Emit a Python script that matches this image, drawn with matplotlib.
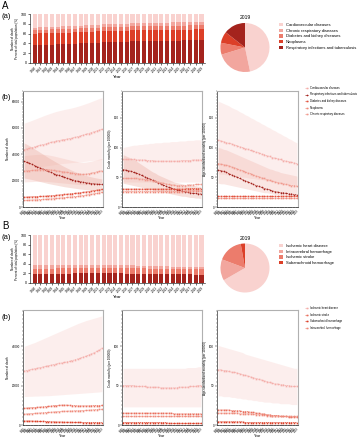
import matplotlib
matplotlib.use('Agg')
import matplotlib.pyplot as plt
from matplotlib.ticker import AutoMinorLocator

plt.rcParams['font.family'] = ['Liberation Sans', 'DejaVu Sans']
plt.rcParams['axes.linewidth'] = 0.4

W, H = 358, 440
years = list(range(1990, 2020))

# ---- A: non-communicable / respiratory causes ----
a_bar_dark = [36.5, 37.0, 37.2, 37.5, 38.0, 38.5, 39.0, 39.5, 40.0, 40.5, 41.0, 41.5, 42.0, 42.5, 43.0,
              43.3, 43.6, 44.0, 44.3, 44.6, 44.8, 45.0, 45.2, 45.4, 45.6, 45.8, 46.0, 46.1, 46.2, 46.3]
a_bar_red = [23.5, 23.4, 23.4, 23.3, 23.2, 23.2, 23.1, 23.0, 23.0, 22.9, 22.9, 22.8, 22.8, 22.7, 22.7,
             22.6, 22.6, 22.5, 22.5, 22.5, 22.4, 22.4, 22.4, 22.3, 22.3, 22.3, 22.2, 22.2, 22.2, 22.2]
a_bar_salmon = [7.5, 7.5, 7.6, 7.6, 7.6, 7.7, 7.7, 7.7, 7.8, 7.8, 7.8, 7.9, 7.9, 7.9, 8.0,
                8.0, 8.0, 8.1, 8.1, 8.1, 8.1, 8.2, 8.2, 8.2, 8.2, 8.3, 8.3, 8.3, 8.3, 8.3]
a_bar_pink = [4.9, 5.0, 5.1, 5.2, 5.3, 5.4, 5.5, 5.6, 5.7, 5.8, 5.9, 6.0, 6.0, 6.1, 6.2,
              6.3, 6.3, 6.4, 6.5, 6.5, 6.6, 6.6, 6.7, 6.7, 6.8, 6.8, 6.9, 6.9, 7.0, 7.0]
a_causes = ['Cardiovascular diseases', 'Chronic respiratory diseases', 'Diabetes and kidney diseases',
            'Neoplasms', 'Respiratory infections and tuberculosis']
a_pie_2019 = [46.7, 23.6, 7.8, 7.5, 14.4]

a_line_causes = ['Cardiovascular diseases', 'Respiratory infections and tuberculosis',
                 'Diabetes and kidney diseases', 'Neoplasms', 'Chronic respiratory diseases']
# number of death
a_deaths = {
    'cvd': [43400, 44000, 44600, 45100, 45600, 46200, 46800, 47300, 47800, 48400, 49000, 49500, 50000, 50400, 50800,
            51200, 51500, 51900, 52300, 52800, 53300, 53900, 54500, 55100, 55700, 56400, 57000, 57600, 58300, 59000],
    'resp': [34600, 33900, 33100, 32300, 31400, 30500, 29600, 28700, 27800, 27000, 26200, 25400, 24600, 23900, 23200,
             22500, 21800, 21200, 20600, 20100, 19600, 19200, 18800, 18400, 18100, 17800, 17600, 17400, 17300, 17200],
    'diab': [7400, 7500, 7600, 7700, 7800, 7900, 8000, 8100, 8200, 8400, 8500, 8700, 8900, 9100, 9300,
             9500, 9700, 9900, 10100, 10300, 10600, 10800, 11100, 11400, 11700, 12000, 12400, 12700, 13000, 13400],
    'neo': [5000, 5100, 5200, 5300, 5400, 5500, 5600, 5700, 5900, 6000, 6200, 6300, 6500, 6700, 6900,
            7100, 7300, 7500, 7700, 7900, 8100, 8400, 8700, 9000, 9300, 9600, 10000, 10300, 10700, 11000],
    'chronic': [27200, 27400, 27600, 27800, 28000, 28200, 28300, 28400, 28300, 28200, 28000, 27800, 27500, 27200, 26900,
                26600, 26300, 26000, 25700, 25400, 25100, 24900, 24800, 24900, 25200, 25600, 26100, 26600, 27000, 27400],
}
a_deaths_hi = {
    'cvd': [63600, 64300, 65000, 65800, 66600, 67400, 68200, 69000, 69800, 70500, 71200, 71900, 72500, 73000, 73500,
            74000, 74400, 74800, 75300, 75800, 76400, 77000, 77700, 78400, 79100, 79900, 80700, 81500, 82300, 83000],
    'resp': [48600, 47600, 46500, 45300, 44000, 42700, 41400, 40100, 38800, 37500, 36300, 35100, 33900, 32800, 31700,
             30600, 29600, 28600, 27700, 26800, 26000, 25300, 24600, 24000, 23400, 22900, 22400, 22000, 21600, 21300],
    'chronic': [39000, 39200, 39400, 39600, 39800, 39900, 40000, 40000, 39800, 39500, 39100, 38700, 38200, 37700, 37200,
                36700, 36200, 35700, 35200, 34800, 34400, 34100, 34000, 34100, 34400, 34800, 35300, 35800, 36300, 36800],
}
a_deaths_lo = {
    'cvd': [28000, 28400, 28800, 29200, 29600, 30000, 30400, 30800, 31100, 31400, 31700, 32000, 32300, 32600, 32900,
            33100, 33300, 33500, 33700, 33900, 34100, 34300, 34500, 34700, 34900, 35200, 35400, 35600, 35800, 36000],
    'resp': [22000, 21600, 21200, 20800, 20300, 19800, 19300, 18800, 18300, 17800, 17400, 17000, 16600, 16200, 15800,
             15400, 15100, 14800, 14500, 14200, 13900, 13600, 13400, 13200, 13000, 12800, 12600, 12400, 12200, 12000],
    'chronic': [19000, 19100, 19200, 19300, 19400, 19500, 19500, 19500, 19400, 19300, 19100, 18900, 18700, 18500, 18300,
                18100, 17900, 17700, 17500, 17300, 17100, 17000, 16900, 17000, 17200, 17500, 17800, 18100, 18400, 18700],
}
# crude mortality per 100000
a_crude = {
    'cvd': [80, 80, 80, 80, 80, 79, 79, 79, 79, 78, 78, 78, 77, 77, 77,
            77, 77, 77, 77, 77, 77, 77, 78, 78, 78, 78, 79, 79, 79, 79],
    'resp': [63, 62, 61, 60, 58, 57, 55, 53, 51, 49, 47, 45, 43, 41, 39,
             37, 35, 33, 32, 30, 29, 28, 27, 26, 25, 24, 23, 23, 22, 22],
    'diab': [30, 30, 30, 30, 30, 30, 30, 30, 30, 30, 30, 30, 30, 30, 30,
             30, 30, 30, 30, 30, 30, 30, 30, 30, 31, 31, 31, 31, 31, 31],
    'neo': [26, 26, 26, 26, 26, 26, 26, 26, 26, 26, 26, 26, 26, 26, 26,
            26, 26, 26, 26, 26, 26, 26, 26, 27, 27, 27, 27, 27, 27, 27],
    'chronic': [48, 48, 48, 48, 48, 48, 47, 47, 46, 46, 45, 44, 43, 42, 41,
                40, 39, 38, 37, 37, 36, 36, 36, 36, 37, 37, 37, 38, 38, 38],
}
a_crude_hi = {
    'cvd': [100, 101, 102, 103, 104, 104, 105, 105, 106, 106, 107, 107, 108, 108, 108,
            109, 109, 109, 110, 110, 110, 111, 111, 111, 112, 112, 112, 113, 113, 113],
    'resp': [88, 86, 84, 82, 79, 77, 74, 71, 68, 65, 62, 59, 57, 54, 52,
             50, 48, 46, 44, 42, 41, 40, 39, 38, 37, 37, 36, 36, 35, 35],
}
a_crude_lo = {
    'cvd': [42, 42, 42, 42, 42, 42, 42, 42, 42, 42, 42, 42, 42, 42, 42,
            42, 42, 42, 42, 42, 42, 42, 42, 42, 42, 42, 42, 42, 42, 42],
    'resp': [40, 39, 38, 37, 36, 35, 34, 33, 32, 31, 30, 29, 28, 27, 26,
             25, 24, 23, 22, 21, 20, 19, 18, 18, 17, 16, 16, 15, 15, 14],
}
# age-standardized mortality per 100000
a_asr = {
    'cvd': [112, 111, 110, 108, 107, 106, 104, 103, 101, 100, 98, 97, 95, 94, 92,
            91, 89, 88, 86, 85, 83, 82, 81, 80, 78, 77, 76, 75, 74, 73],
    'resp': [62, 61, 60, 58, 56, 54, 52, 50, 48, 46, 44, 42, 40, 38, 36,
             35, 33, 31, 30, 29, 27, 26, 25, 24, 24, 23, 22, 22, 21, 21],
    'diab': [18, 18, 18, 18, 18, 18, 18, 18, 18, 18, 18, 18, 18, 18, 18,
             18, 18, 18, 18, 18, 18, 18, 18, 18, 18, 18, 18, 18, 18, 18],
    'neo': [15, 15, 15, 15, 15, 15, 15, 15, 15, 15, 15, 15, 15, 15, 15,
            15, 15, 15, 15, 15, 15, 15, 15, 15, 15, 15, 15, 15, 15, 15],
    'chronic': [73, 72, 71, 70, 69, 67, 66, 64, 62, 61, 59, 57, 56, 54, 52,
                51, 49, 48, 46, 45, 43, 42, 41, 40, 39, 38, 37, 36, 36, 35],
}
a_asr_hi = {
    'cvd': [178, 176, 174, 172, 170, 167, 165, 163, 160, 158, 155, 153, 150, 148, 145,
            143, 140, 138, 135, 133, 130, 128, 125, 123, 120, 118, 115, 113, 110, 108],
    'chronic': [100, 99, 97, 96, 94, 92, 90, 88, 86, 84, 82, 80, 78, 76, 74,
                72, 70, 68, 66, 64, 63, 61, 60, 58, 57, 56, 55, 54, 53, 52],
}
a_asr_lo = {
    'cvd': [56, 55, 55, 54, 54, 53, 52, 52, 51, 50, 50, 49, 48, 48, 47,
            46, 46, 45, 44, 44, 43, 42, 42, 41, 40, 40, 39, 38, 38, 37],
    'chronic': [40, 39, 39, 38, 37, 36, 35, 34, 33, 32, 31, 30, 29, 28, 27,
                26, 25, 24, 24, 23, 22, 21, 21, 20, 20, 19, 19, 18, 18, 18],
}

# ---- B: cardiovascular subtypes ----
b_bar_dark = [19.0, 19.1, 19.2, 19.3, 19.4, 19.5, 19.6, 19.8, 19.9, 20.0, 20.1, 20.1, 20.0, 20.0, 19.9,
              19.8, 19.6, 19.5, 19.3, 19.1, 19.0, 18.8, 18.6, 18.4, 18.2, 18.0, 17.9, 17.8, 17.7, 17.6]
b_bar_salmon = [10.5, 10.6, 10.7, 10.8, 11.0, 11.2, 11.4, 11.6, 11.8, 12.0, 12.1, 12.1, 12.0, 11.9, 11.8,
                11.7, 11.6, 11.5, 11.4, 11.3, 11.2, 11.2, 11.1, 11.1, 11.0, 11.0, 11.0, 11.0, 11.0, 11.0]
b_bar_pink = [7.0, 7.0, 7.0, 6.9, 6.8, 6.7, 6.6, 6.5, 6.4, 6.3, 6.2, 6.1, 6.0, 5.9, 5.8,
              5.7, 5.6, 5.5, 5.4, 5.3, 5.2, 5.1, 5.0, 4.9, 4.8, 4.7, 4.6, 4.5, 4.4, 4.4]
b_causes = ['Ischemic heart disease', 'Intracerebral hemorrhage', 'Ischemic stroke', 'Subarachnoid hemorrhage']
b_pie_2019 = [66.7, 14.0, 16.5, 2.8]

b_line_causes = ['Ischemic heart disease', 'Ischemic stroke', 'Subarachnoid hemorrhage', 'Intracerebral hemorrhage']
b_deaths = {
    'ihd': [27400, 27700, 28000, 28300, 28600, 28900, 29200, 29500, 29800, 30100, 30400, 30700, 31000, 31300, 31500,
            31800, 32100, 32400, 32800, 33200, 33600, 34000, 34500, 35000, 35500, 36100, 36700, 37400, 38200, 39000],
    'stroke': [8500, 8600, 8700, 8800, 8900, 9000, 9100, 9200, 9300, 9500, 9600, 9800, 9900, 10000, 10100,
               10100, 10100, 10000, 9900, 9800, 9700, 9700, 9700, 9700, 9700, 9800, 9800, 9900, 9900, 10000],
    'sah': [2000, 2000, 2000, 2000, 1900, 1900, 1800, 1800, 1700, 1700, 1600, 1600, 1500, 1500, 1500,
            1400, 1400, 1400, 1300, 1300, 1300, 1300, 1200, 1200, 1200, 1200, 1200, 1200, 1200, 1200],
    'ich': [5500, 5600, 5700, 5800, 5900, 6000, 6100, 6200, 6300, 6400, 6500, 6600, 6700, 6800, 6900,
            7000, 7000, 7100, 7100, 7200, 7200, 7300, 7300, 7400, 7500, 7600, 7700, 7800, 7900, 8000],
}
b_deaths_hi = [40000, 40500, 41000, 41500, 42000, 42600, 43200, 43800, 44400, 45000, 45600, 46200, 46800, 47400, 48000,
               48600, 49200, 49800, 50400, 51000, 51600, 52100, 52600, 53100, 53500, 53900, 54300, 54700, 55100, 55500]
b_deaths_lo = [14500, 14500, 14600, 14600, 14700, 14700, 14800, 14800, 14900, 14900, 15000, 15100, 15200, 15300, 15400,
               15500, 15600, 15700, 15800, 15900, 16000, 16100, 16200, 16300, 16400, 16500, 16600, 16700, 16800, 17000]
b_crude = {
    'ihd': [50, 50, 50, 50, 50, 49, 49, 49, 49, 48, 48, 48, 48, 48, 47,
            47, 47, 47, 47, 47, 47, 48, 48, 48, 48, 49, 49, 49, 50, 50],
    'stroke': [15, 15, 15, 15, 15, 15, 15, 15, 15, 15, 15, 15, 15, 15, 15,
               15, 15, 15, 15, 14, 14, 14, 14, 14, 14, 14, 14, 14, 14, 14],
    'sah': [3, 3, 3, 3, 3, 3, 3, 3, 3, 3, 3, 3, 3, 3, 3,
            3, 3, 2, 2, 2, 2, 2, 2, 2, 2, 2, 2, 2, 2, 2],
    'ich': [11, 11, 11, 11, 11, 11, 11, 11, 11, 11, 11, 11, 11, 11, 11,
            11, 11, 11, 11, 11, 11, 11, 11, 11, 11, 11, 11, 11, 11, 11],
}
b_crude_hi = [72, 72, 72, 72, 72, 72, 72, 72, 72, 72, 72, 72, 72, 72, 72,
              72, 72, 72, 72, 72, 72, 72, 72, 72, 73, 73, 73, 73, 74, 74]
b_crude_lo = [23, 23, 23, 23, 23, 23, 23, 23, 23, 23, 23, 23, 23, 23, 23,
              23, 23, 23, 23, 23, 23, 23, 23, 23, 23, 23, 23, 23, 23, 23]
b_asr = {
    'ihd': [70, 70, 69, 69, 68, 67, 67, 66, 65, 64, 63, 62, 61, 60, 59,
            58, 57, 56, 55, 54, 53, 52, 52, 51, 51, 50, 50, 49, 49, 49],
    'stroke': [19, 19, 19, 19, 19, 18, 18, 18, 18, 17, 17, 17, 16, 16, 15,
               15, 14, 14, 13, 13, 12, 12, 12, 11, 11, 11, 10, 10, 10, 10],
    'sah': [4, 4, 4, 4, 4, 4, 4, 4, 4, 4, 3, 3, 3, 3, 3,
            3, 3, 3, 3, 3, 3, 3, 3, 3, 3, 3, 3, 3, 3, 3],
    'ich': [15, 15, 15, 15, 15, 15, 15, 15, 14, 14, 14, 14, 14, 14, 13,
            13, 13, 13, 12, 12, 12, 12, 12, 11, 11, 11, 11, 11, 11, 11],
}
b_asr_hi = [101, 100, 99, 98, 97, 96, 95, 94, 93, 92, 90, 89, 88, 87, 86,
            85, 84, 83, 82, 81, 80, 79, 78, 77, 76, 75, 74, 73, 72, 72]
b_asr_lo = [37, 37, 36, 36, 36, 35, 35, 34, 34, 33, 33, 32, 32, 31, 31,
            30, 30, 29, 29, 29, 28, 28, 28, 27, 27, 27, 27, 26, 26, 26]

# colours
c_lightest = '#f9d2cf'
c_pink = '#f2a69e'
c_salmon = '#ec7c6c'
c_red = '#dc3f28'
c_dark = '#a4231d'


def px_axes(fig, left, top, right, bottom):
    return fig.add_axes([left / W, 1 - bottom / H, (right - left) / W, (bottom - top) / H])


def bar_panel(ax, layers, colors):
    bottom = [0] * len(years)
    for vals, col in zip(layers, colors):
        ax.bar(years, vals, bottom=bottom, color=col, width=0.72, linewidth=0)
        bottom = [b + v for b, v in zip(bottom, vals)]
    ax.bar(years, [100 - b for b in bottom], bottom=bottom, color=c_lightest, width=0.72, linewidth=0)
    ax.set_ylim(0, 100)
    ax.set_xlim(1989.2, 2019.6)
    ax.set_yticks([0, 20, 40, 60, 80, 100])
    ax.set_xticks(years)
    ax.set_xticklabels([str(y) for y in years], rotation=45, ha='right', rotation_mode='anchor')
    ax.tick_params(axis='y', labelsize=2.6, length=1.5, width=0.4, pad=0.8)
    ax.tick_params(axis='x', labelsize=2.3, length=1.2, width=0.4, pad=0.6)
    ax.spines['top'].set_visible(False)
    ax.spines['right'].set_visible(False)
    ax.set_xlabel('Year', fontsize=3.2, labelpad=1.0)
    ax.set_ylabel('Number of death\nPercent of total population (%)', fontsize=2.2, labelpad=1.2, linespacing=1.1)


def pie_panel(ax, vals, colors):
    wedges, _ = ax.pie(vals, colors=colors, startangle=90, counterclock=False,
                       wedgeprops=dict(linewidth=0))
    ax.set_xlim(-1.02, 1.02)
    ax.set_ylim(-1.02, 1.02)
    ax.set_title('2019', fontsize=3.6, pad=2.5)
    return wedges


def line_panel(ax, series, styles, bands, ymax, yticks, ylabel):
    for key, (lo, hi, col, alpha) in bands.items():
        ax.fill_between(years, lo, hi, color=col, alpha=alpha, linewidth=0)
    for key, (col, mk, lab) in styles.items():
        ax.plot(years, series[key], color=col, linestyle=(0, (2, 1)), linewidth=0.5,
                marker=mk, markersize=1.2, markeredgewidth=0, label=lab)
    ax.set_xlim(1989.6, 2019.4)
    ax.set_ylim(0, ymax)
    ax.set_yticks(yticks)
    ax.yaxis.set_minor_locator(AutoMinorLocator(10))
    ax.set_xticks(years)
    ax.set_xticklabels([str(y) for y in years], rotation=45, ha='right', rotation_mode='anchor')
    ax.tick_params(axis='y', which='major', labelsize=2.2, length=1.5, width=0.3, pad=0.6)
    ax.tick_params(axis='y', which='minor', length=0.8, width=0.25)
    ax.tick_params(axis='x', labelsize=1.9, length=1.0, width=0.3, pad=0.3)
    for s in ['top', 'right']:
        ax.spines[s].set_color('#b0b0b0')
        ax.spines[s].set_linewidth(0.8)
    ax.set_xlabel('Year', fontsize=2.6, labelpad=0.3)
    ax.set_ylabel(ylabel, fontsize=2.2, labelpad=1.5)


fig = plt.figure(figsize=(W / 100, H / 100), dpi=100)

fig.text(2 / W, 1 - 9 / H, 'A', fontsize=7)
fig.text(2 / W, 1 - 18 / H, '(a)', fontsize=5.5)
fig.text(2 / W, 1 - 99 / H, '(b)', fontsize=5.5)
fig.text(2 / W, 1 - 229 / H, 'B', fontsize=7)
fig.text(2 / W, 1 - 239 / H, '(a)', fontsize=5.5)
fig.text(2 / W, 1 - 319 / H, '(b)', fontsize=5.5)

# A(a)
ax = px_axes(fig, 30, 14, 205, 63)
bar_panel(ax, [a_bar_dark, a_bar_red, a_bar_salmon, a_bar_pink], [c_dark, c_red, c_salmon, c_pink])

ax = px_axes(fig, 220, 22.5, 270, 72.5)
wedges = pie_panel(ax, a_pie_2019, [c_lightest, c_pink, c_salmon, c_red, c_dark])
fig.legend(wedges, a_causes, loc='upper left', bbox_to_anchor=(279 / W, 1 - 23 / H), fontsize=3.0,
           frameon=False, handlelength=1.0, handleheight=0.8, handletextpad=0.6, labelspacing=0.4,
           borderpad=0, borderaxespad=0)

# A(b)
a_styles = {'cvd': ('#f4aeaa', 's', a_line_causes[0]),
            'resp': (c_dark, 'o', a_line_causes[1]),
            'diab': ('#e2533f', 's', a_line_causes[2]),
            'neo': ('#ee8b7c', 's', a_line_causes[3]),
            'chronic': ('#f09a8e', 's', a_line_causes[4])}
ax1 = px_axes(fig, 23, 91, 103, 207)
line_panel(ax1, a_deaths, a_styles,
           {'cvd': (a_deaths_lo['cvd'], a_deaths_hi['cvd'], '#f8c9c4', 0.3),
            'chronic': (a_deaths_lo['chronic'], a_deaths_hi['chronic'], '#f5b9b1', 0.3),
            'resp': (a_deaths_lo['resp'], a_deaths_hi['resp'], '#e9a99c', 0.35)},
           88000, [0, 20000, 40000, 60000, 80000], 'Number of death')
ax2 = px_axes(fig, 122, 91, 202, 207)
line_panel(ax2, a_crude, a_styles,
           {'cvd': (a_crude_lo['cvd'], a_crude_hi['cvd'], '#f8c9c4', 0.3),
            'resp': (a_crude_lo['resp'], a_crude_hi['resp'], '#e9a99c', 0.35)},
           195, [0, 50, 100, 150], 'Crude mortality (per 100000)')
ax3 = px_axes(fig, 217, 91, 298, 207)
line_panel(ax3, a_asr, a_styles,
           {'cvd': (a_asr_lo['cvd'], a_asr_hi['cvd'], '#f8c9c4', 0.3),
            'chronic': (a_asr_lo['chronic'], a_asr_hi['chronic'], '#f0b0a6', 0.3)},
           195, [0, 50, 100, 150], 'Age-standardized mortality (per 100000)')
h, l = ax1.get_legend_handles_labels()
fig.legend(h, l, loc='upper left', bbox_to_anchor=(305 / W, 1 - 86 / H), fontsize=2.0,
           frameon=False, handlelength=1.2, handletextpad=0.6, labelspacing=0.9,
           borderpad=0, borderaxespad=0)

# B(a)
ax = px_axes(fig, 30, 235, 205, 283)
bar_panel(ax, [b_bar_dark, b_bar_salmon, b_bar_pink], [c_dark, c_salmon, c_pink])

ax = px_axes(fig, 220, 243, 270, 293)
wedges = pie_panel(ax, b_pie_2019, [c_lightest, c_pink, c_salmon, c_red])
fig.legend(wedges, b_causes, loc='upper left', bbox_to_anchor=(279 / W, 1 - 244 / H), fontsize=3.0,
           frameon=False, handlelength=1.0, handleheight=0.8, handletextpad=0.6, labelspacing=0.4,
           borderpad=0, borderaxespad=0)

# B(b)
b_styles = {'ihd': ('#f4aeaa', 's', b_line_causes[0]),
            'stroke': ('#e9705e', 's', b_line_causes[1]),
            'sah': ('#dc3f28', 's', b_line_causes[2]),
            'ich': ('#ee8b7c', 's', b_line_causes[3])}
bx1 = px_axes(fig, 23, 310, 103, 425)
line_panel(bx1, b_deaths, b_styles, {'ihd': (b_deaths_lo, b_deaths_hi, '#f8c9c4', 0.3)},
           58500, [0, 20000, 40000], 'Number of death')
bx2 = px_axes(fig, 122, 310, 202, 425)
line_panel(bx2, b_crude, b_styles, {'ihd': (b_crude_lo, b_crude_hi, '#f8c9c4', 0.3)},
           146, [0, 50, 100], 'Crude mortality (per 100000)')
bx3 = px_axes(fig, 217, 310, 298, 425)
line_panel(bx3, b_asr, b_styles, {'ihd': (b_asr_lo, b_asr_hi, '#f8c9c4', 0.3)},
           146, [0, 50, 100], 'Age-standardized mortality (per 100000)')
h, l = bx1.get_legend_handles_labels()
fig.legend(h, l, loc='upper left', bbox_to_anchor=(305 / W, 1 - 306 / H), fontsize=2.0,
           frameon=False, handlelength=1.2, handletextpad=0.6, labelspacing=0.9,
           borderpad=0, borderaxespad=0)

fig.savefig('out.png', dpi=100)
